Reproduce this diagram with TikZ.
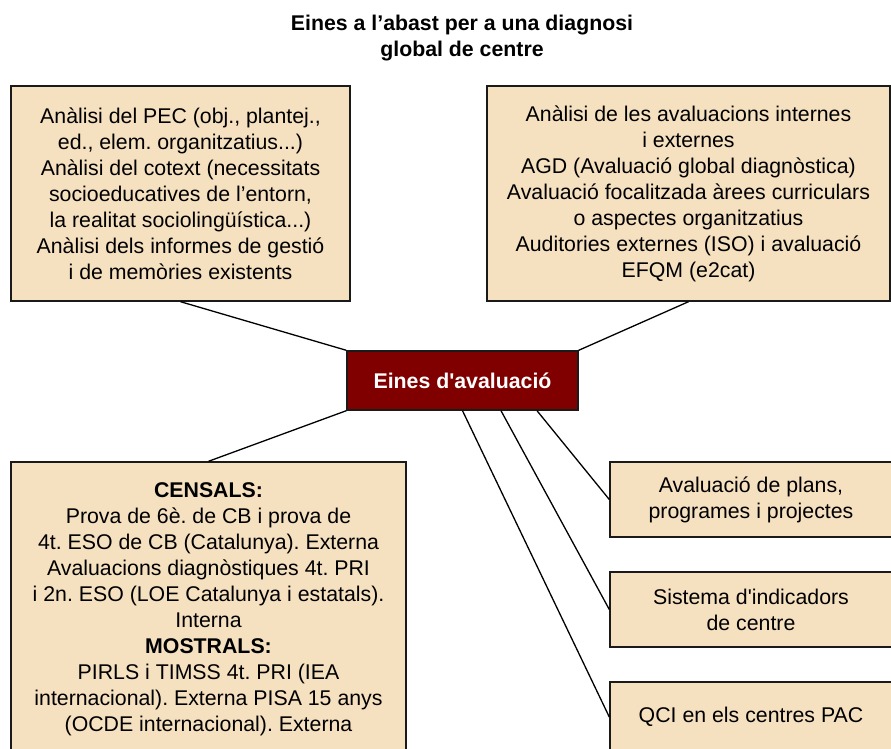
\documentclass[tikz,border=0pt]{standalone}
\usepackage{fontspec}
\setmainfont{Liberation Sans}[Ligatures=TeXOff]
\usetikzlibrary{calc}
\frenchspacing
\definecolor{boxfill}{HTML}{F5E0C0}
\definecolor{boxred}{HTML}{800000}
\definecolor{edgegray}{HTML}{1A1A1A}
\tikzset{
  infobox/.style={draw=edgegray, line width=1.4pt, fill=boxfill, rectangle, inner sep=0pt, align=center,
    font=\fontsize{21.3}{26}\selectfont},
  centerbox/.style={draw=edgegray, line width=1.4pt, fill=boxred, rectangle, inner sep=0pt, align=center,
    text=white, font=\fontsize{21.3}{26}\selectfont\bfseries},
  titletext/.style={align=center, font=\fontsize{21.3}{26}\selectfont\bfseries},
  link/.style={draw=black, line width=1.3pt}
}
\begin{document}
\begin{tikzpicture}[x=1pt,y=-1pt]
\useasboundingbox (0,0) rectangle (891,749);
\clip (0,0) rectangle (891,749);
\node[titletext] (title) at (462,38) {Eines a l’abast per a una diagnosi\\global de centre};
\node[infobox, minimum width=339pt, minimum height=215pt] (tl) at (180.5,193.5)
  {Anàlisi del PEC (obj., plantej.,\\ed., elem. organitzatius...)\\Anàlisi del cotext (necessitats\\socioeducatives de l’entorn,\\la realitat sociolingüística...)\\Anàlisi dels informes de gestió\\i de memòries existents};
\node[infobox, minimum width=403pt, minimum height=215pt] (tr) at (688.5,193.5)
  {Anàlisi de les avaluacions internes\\i externes\\AGD (Avaluació global diagnòstica)\\Avaluació focalitzada àrees curriculars\\o aspectes organitzatius\\Auditories externes (ISO) i avaluació\\EFQM (e2cat)};
\node[centerbox, minimum width=231pt, minimum height=59pt] (c) at (462.5,380.5) {Eines d'avaluació};
\node[infobox, minimum width=395pt, minimum height=294pt] (bl) at (208.5,609)
  {\textbf{CENSALS:}\\Prova de 6è. de CB i prova de\\4t. ESO de CB (Catalunya). Externa\\Avaluacions diagnòstiques 4t. PRI\\i 2n. ESO (LOE Catalunya i estatals).\\Interna\\\textbf{MOSTRALS:}\\PIRLS i TIMSS 4t. PRI (IEA\\internacional). Externa PISA 15 anys\\(OCDE internacional). Externa};
\node[infobox, minimum width=282pt, minimum height=75pt] (r1) at (751,499.5) {Avaluació de plans,\\programes i projectes};
\node[infobox, minimum width=282pt, minimum height=75pt] (r2) at (751,609.5) {Sistema d'indicadors\\de centre};
\node[infobox, minimum width=282pt, minimum height=70pt] (r3) at (751,717) {QCI en els centres PAC};
\coordinate (s2) at ($(c.south)+(38.5,0)$);
\coordinate (s1) at ($(c.south)+(74.5,0)$);
\draw[link] (tl.south) -- (c.north west);
\draw[link] (tr.south) -- (c.north east);
\draw[link] (bl.north) -- (c.south west);
\draw[link] (s1) -- (r1.west);
\draw[link] (s2) -- (r2.west);
\draw[link] (c.south) -- (r3.west);
\end{tikzpicture}
\end{document}
